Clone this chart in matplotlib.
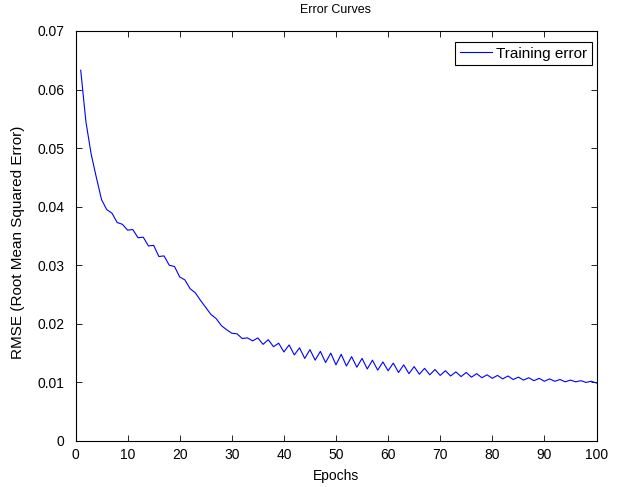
import matplotlib
matplotlib.use("Agg")
import matplotlib.pyplot as plt
import numpy as np

epochs = list(range(1, 101))
training_error = [
    0.0633, 0.0545, 0.0490, 0.0450, 0.0412, 0.0395, 0.0389, 0.0373, 0.0370, 0.0360,
    0.0361, 0.0347, 0.0348, 0.0333, 0.0334, 0.0315, 0.0316, 0.0300, 0.0298, 0.0280,
    0.0275, 0.0260, 0.0253, 0.0240, 0.0228, 0.0216, 0.0209, 0.0197, 0.0190, 0.0184,
    0.0183, 0.0175, 0.0176, 0.0171, 0.0176, 0.0165, 0.0173, 0.0161, 0.0167, 0.0152,
    0.0164, 0.0147, 0.0159, 0.0141, 0.0156, 0.0138, 0.0153, 0.0134, 0.0150, 0.0130,
    0.0148, 0.0128, 0.0144, 0.0126, 0.0141, 0.0123, 0.0138, 0.0121, 0.0135, 0.0120,
    0.0133, 0.0117, 0.0130, 0.0115, 0.0127, 0.0114, 0.0124, 0.0113, 0.0122, 0.0112,
    0.0120, 0.0111, 0.0118, 0.0110, 0.0117, 0.0109, 0.0115, 0.0108, 0.0113, 0.0107,
    0.0112, 0.0106, 0.0111, 0.0105, 0.0109, 0.0104, 0.0108, 0.0103, 0.0107, 0.0102,
    0.0106, 0.0102, 0.0105, 0.0101, 0.0104, 0.0101, 0.0103, 0.0100, 0.0102, 0.0099,
]
x_ticks = [0, 10, 20, 30, 40, 50, 60, 70, 80, 90, 100]
y_ticks = [0, 0.01, 0.02, 0.03, 0.04, 0.05, 0.06, 0.07]
y_tick_labels = ["0", "0.01", "0.02", "0.03", "0.04", "0.05", "0.06", "0.07"]

plt.rcParams['font.family'] = ['Liberation Sans', 'DejaVu Sans']

fig = plt.figure(figsize=(6.22, 4.87), dpi=100)
ax = fig.add_axes([75.5/622, 1-441/487, (596.5-75.5)/622, (441-31)/487])

ax.plot(epochs, training_error, color=(0, 0, 1), linewidth=0.8, label="Training error")

ax.set_xlim(0, 100)
ax.set_ylim(0, 0.07)
ax.set_xticks(x_ticks)
ax.set_yticks(y_ticks)
ax.set_yticklabels(y_tick_labels)
ax.tick_params(direction='in', top=True, right=True, length=4, width=0.6, labelsize=10)
ax.tick_params(axis='y', pad=8)
ax.tick_params(axis='x', pad=5)
for s in ax.spines.values():
    s.set_linewidth(0.8)

ax.set_xlabel("Epochs", fontsize=10, labelpad=5)
ax.set_ylabel("RMSE (Root Mean Squared Error)", fontsize=11)
ax.yaxis.set_label_coords(-0.097, 0.485)
ax.set_title("Error Curves", fontsize=9, pad=13)

leg = ax.legend(loc='upper right', fontsize=11, fancybox=False, framealpha=1,
                edgecolor='black', bbox_to_anchor=(592/622, 1-42/487),
                bbox_transform=fig.transFigure, borderaxespad=0,
                handlelength=2.1, borderpad=0.3, handletextpad=0.3)
leg.get_frame().set_linewidth(0.8)

fig.savefig("out.png", dpi=100)
